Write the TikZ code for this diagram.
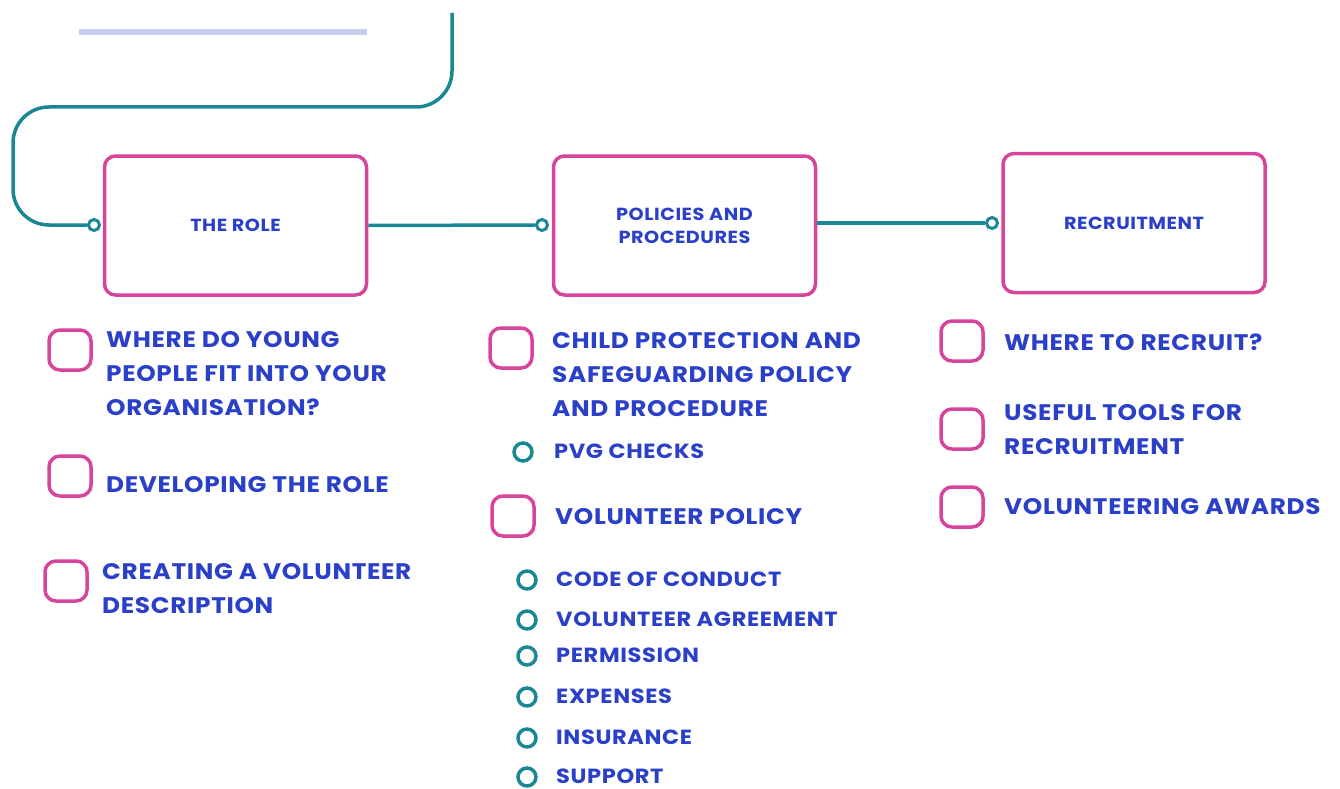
\documentclass[tikz,border=0pt]{standalone}
\usepackage{fontspec}
\setmainfont{Poppins}
\newfontfamily\wideface{Poppins}[FakeStretch=1.1, LetterSpace=3]
\definecolor{pinkc}{HTML}{D6449B}
\definecolor{bluec}{HTML}{2B40C8}
\definecolor{tealc}{HTML}{1A8797}
\definecolor{barc}{HTML}{C3D1EF}
\tikzset{
  topic/.style={draw=pinkc, line width=3.5pt, rounded corners=11pt, minimum width=262pt, minimum height=139pt, inner sep=0pt, text=bluec, font=\wideface\fontsize{17.5}{23}\selectfont\bfseries, align=center},
  chk/.style={draw=pinkc, line width=3.5pt, rounded corners=11pt, minimum width=42pt, minimum height=40pt, inner sep=0pt},
  sub/.style={circle, draw=tealc, line width=3.5pt, minimum size=18pt, inner sep=0pt},
  item/.style={anchor=west, text=bluec, font=\wideface\fontsize{22.5}{34}\selectfont\bfseries, align=left, inner sep=0pt},
  subitem/.style={anchor=west, text=bluec, font=\wideface\fontsize{20.5}{30}\selectfont\bfseries, align=left, inner sep=0pt},
  conn/.style={draw=tealc, line width=3.5pt},
  port/.style={circle, draw=tealc, line width=3pt, fill=white, minimum size=11pt, inner sep=0pt},
}
\begin{document}
\begin{tikzpicture}[x=1pt,y=-1pt]
\useasboundingbox (0,0) rectangle (1340,789);
% decorative bar
\coordinate (barL) at (79,32);
\coordinate (barR) at (367,32);
\draw[barc, line width=6pt] (barL) -- (barR);
% topic boxes
\node[topic] (b1) at (235.5,225.5) {THE ROLE};
\node[topic] (b2) at (684.5,225.5) {POLICIES AND\\PROCEDURES};
\node[topic] (b3) at (1134,223) {RECRUITMENT};
% ports
\node[port] (p1) at (94,225) {};
\node[port] (p2) at (542,225) {};
\node[port] (p3) at (992,223) {};
% connectors
\coordinate (start) at (452,13);
\draw[conn, rounded corners=36pt] (start) -- (452,107) -- (13,107) -- (13,225) -- (p1.west);
\draw[conn] (b1.east) -- (p2.west);
\draw[conn] (p3.west -| b2.east) -- (p3.west);
% column 1
\node[chk] (c1) at (70,350) {};
\node[item] (t1) at (106,374) {WHERE DO YOUNG\\PEOPLE FIT INTO YOUR\\ORGANISATION?};
\node[chk] (c2) at (70,476) {};
\node[item] (t2) at (106,485) {DEVELOPING THE ROLE};
\node[chk] (c3) at (66,581) {};
\node[item] (t3) at (102,589) {CREATING A VOLUNTEER\\DESCRIPTION};
% column 2
\node[chk] (c4) at (511,348) {};
\node[item] (t4) at (552,375) {CHILD PROTECTION AND\\SAFEGUARDING POLICY\\AND PROCEDURE};
\node[sub] (s1) at (523,452) {};
\node[subitem] (u1) at (554,451) {PVG CHECKS};
\node[chk] (c5) at (513,516) {};
\node[item] (t5) at (555,517) {VOLUNTEER POLICY};
\node[sub] (s2) at (527,580) {};
\node[subitem] (u2) at (556,579) {CODE OF CONDUCT};
\node[sub] (s3) at (527,620) {};
\node[subitem] (u3) at (556,619) {VOLUNTEER AGREEMENT};
\node[sub] (s4) at (527,656) {};
\node[subitem] (u4) at (556,655) {PERMISSION};
\node[sub] (s5) at (527,697) {};
\node[subitem] (u5) at (556,696) {EXPENSES};
\node[sub] (s6) at (527,738) {};
\node[subitem] (u6) at (556,737) {INSURANCE};
\node[sub] (s7) at (527,777) {};
\node[subitem] (u7) at (556,776) {SUPPORT};
% column 3
\node[chk] (c6) at (962,341) {};
\node[item] (t6) at (1004,342) {WHERE TO RECRUIT?};
\node[chk] (c7) at (962,429) {};
\node[item] (t7) at (1004,430) {USEFUL TOOLS FOR\\RECRUITMENT};
\node[chk] (c8) at (962,507) {};
\node[item] (t8) at (1004,507) {VOLUNTEERING AWARDS};
\end{tikzpicture}
\end{document}
